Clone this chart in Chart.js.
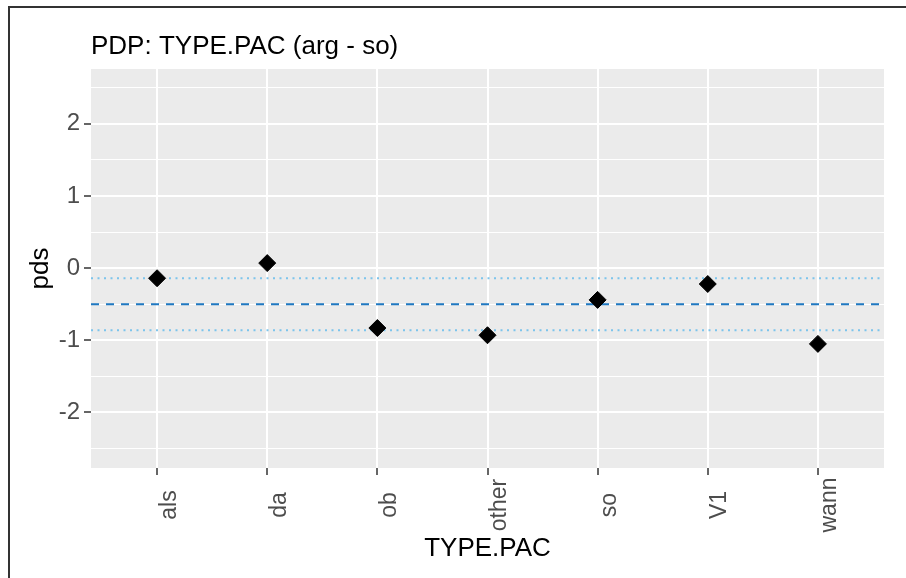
<!DOCTYPE html>
<html lang="en">
<head>
  <meta charset="UTF-8" />
  <title>PDP: TYPE.PAC (arg - so)</title>
  <script src="https://cdn.jsdelivr.net/npm/chart.js"></script>
  <style>
    html, body { margin: 0; padding: 0; background: #fff; }
    #wrap { position: relative; width: 906px; height: 578px; }
    #frame { position: absolute; left: 8px; top: 6px; right: 0; bottom: 0;
             border-top: 2px solid #333; border-left: 2px solid #333; pointer-events: none; }
  </style>
</head>
<body>
  <div id="wrap">
    <canvas id="pdp" width="906" height="578"></canvas>
    <div id="frame"></div>
  </div>
  <script>
    // categories and partial dependence values
    const categories = ['als', 'da', 'ob', 'other', 'so', 'V1', 'wann'];
    const pdsValues = [-0.14, 0.07, -0.83, -0.93, -0.44, -0.22, -1.05];
    // reference lines: mean (dashed) and band (dotted)
    const meanLine = -0.5;
    const bandLines = [-0.14, -0.86];
    const yMajorTicks = [-2, -1, 0, 1, 2];
    const yMinorTicks = [-2.5, -1.5, -0.5, 0.5, 1.5, 2.5];
    const yRange = [-2.77, 2.76];
    const xRange = [0.4, 7.6];

    const fontFamily = '"Liberation Sans", Arial, sans-serif';
    const tickGrey = '#4d4d4d';

    const points = pdsValues.map((v, i) => ({ x: i + 1, y: v }));
    const hline = y => [{ x: xRange[0], y: y }, { x: xRange[1], y: y }];

    const panelBg = {
      id: 'panelBg',
      beforeDraw(chart) {
        const { ctx, chartArea: a } = chart;
        ctx.save();
        ctx.fillStyle = '#ebebeb';
        ctx.fillRect(a.left, a.top, a.right - a.left, a.bottom - a.top);
        ctx.restore();
      }
    };

    // rotated category labels, centred like ggplot's angle = 90
    const xLabels = {
      id: 'xLabels',
      afterDraw(chart) {
        const { ctx } = chart;
        const sx = chart.scales.x;
        ctx.save();
        ctx.fillStyle = tickGrey;
        ctx.font = '23px ' + fontFamily;
        ctx.textAlign = 'center';
        ctx.textBaseline = 'alphabetic';
        sx.ticks.forEach(t => {
          const px = sx.getPixelForValue(t.value);
          ctx.save();
          ctx.translate(px + 18.5, 505);
          ctx.rotate(-Math.PI / 2);
          ctx.fillText(categories[t.value - 1], 0, 0);
          ctx.restore();
        });
        ctx.restore();
      }
    };

    new Chart(document.getElementById('pdp').getContext('2d'), {
      type: 'scatter',
      data: {
        datasets: [
          {
            data: points,
            pointStyle: 'rectRot',
            pointRadius: 8.5,
            pointBackgroundColor: '#000',
            pointBorderColor: '#000',
            pointBorderWidth: 1,
            order: 0
          },
          {
            type: 'line',
            data: hline(meanLine),
            borderColor: '#1f78c1',
            borderWidth: 2,
            borderDash: [8, 7],
            pointRadius: 0,
            order: 1
          },
          {
            type: 'line',
            data: hline(bandLines[0]),
            borderColor: '#7cc4ec',
            borderWidth: 2,
            borderDash: [2, 4.5],
            pointRadius: 0,
            order: 2
          },
          {
            type: 'line',
            data: hline(bandLines[1]),
            borderColor: '#7cc4ec',
            borderWidth: 2,
            borderDash: [2, 4.5],
            pointRadius: 0,
            order: 2
          }
        ]
      },
      options: {
        responsive: false,
        animation: false,
        layout: { padding: { left: 0, right: 22, top: 0, bottom: 10 } },
        plugins: {
          legend: { display: false },
          tooltip: { enabled: false },
          title: {
            display: true,
            text: 'PDP: TYPE.PAC (arg - so)',
            align: 'start',
            fullSize: false,
            color: '#000',
            font: { family: fontFamily, size: 26, weight: 'normal' },
            padding: { top: 31.7, bottom: 6.1 }
          }
        },
        scales: {
          x: {
            type: 'linear',
            min: xRange[0],
            max: xRange[1],
            afterBuildTicks: s => { s.ticks = categories.map((c, i) => ({ value: i + 1 })); },
            afterFit: s => { s.height = 100; },
            border: { display: false },
            grid: { color: '#fff', lineWidth: 2, tickColor: '#333', tickWidth: 1.5, tickLength: 7 },
            ticks: { display: false },
            title: {
              display: true,
              text: 'TYPE.PAC',
              color: '#000',
              font: { family: fontFamily, size: 26 },
              padding: { top: 0, bottom: 3.4 }
            }
          },
          y: {
            min: yRange[0],
            max: yRange[1],
            afterBuildTicks: s => {
              s.ticks = yMajorTicks.concat(yMinorTicks).sort((a, b) => a - b).map(v => ({ value: v }));
            },
            afterFit: s => { s.width = 91; },
            border: { display: false },
            grid: {
              color: '#fff',
              lineWidth: c => (yMajorTicks.includes(c.tick.value) ? 2 : 1),
              tickColor: c => (yMajorTicks.includes(c.tick.value) ? '#333' : 'rgba(0,0,0,0)'),
              tickWidth: 1.5,
              tickLength: 7
            },
            ticks: {
              color: tickGrey,
              padding: 4,
              font: { family: fontFamily, size: 24 },
              callback: v => (yMajorTicks.includes(v) ? String(v) : '')
            },
            title: {
              display: true,
              text: 'pds',
              color: '#000',
              font: { family: fontFamily, size: 26 },
              padding: { top: 25.4, bottom: 0 }
            }
          }
        }
      },
      plugins: [panelBg, xLabels]
    });
  </script>
</body>
</html>
